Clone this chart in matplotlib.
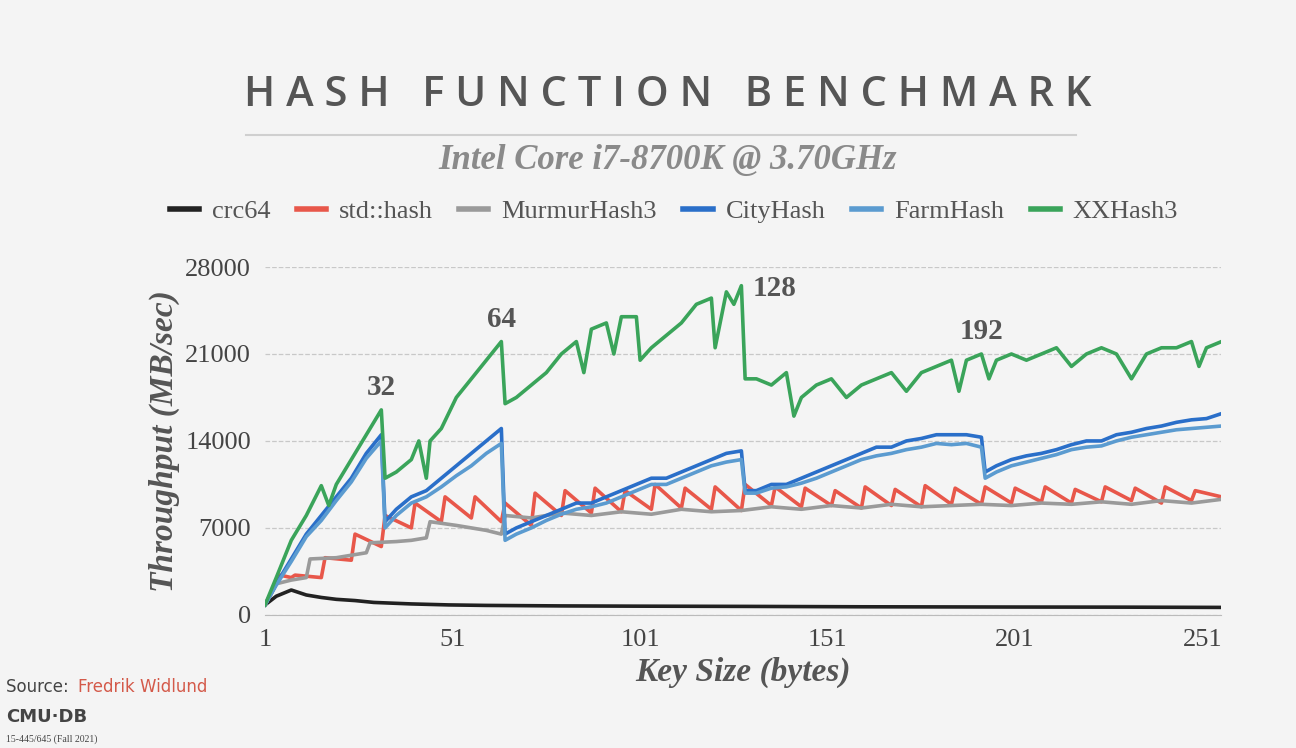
import matplotlib
matplotlib.use("Agg")
import matplotlib.pyplot as plt

# ---- data ----
crc_x = [1, 4, 8, 12, 16, 20, 25, 30, 40, 50, 60, 80, 100, 130, 160, 200, 230, 256]
crc_y = [800, 1500, 2000, 1600, 1400, 1250, 1150, 1000, 880, 800, 760, 720, 700, 680, 650, 630, 620, 600]

std_x = [1, 4, 5, 8, 9, 16, 17, 24, 25, 32, 33, 40, 41, 48, 49, 56, 57, 64, 65, 72, 73, 80, 81, 88, 89,
         96, 97, 104, 105, 112, 113, 120, 121, 128, 129, 136, 137, 144, 145, 152, 153, 160, 161, 168, 169,
         176, 177, 184, 185, 192, 193, 200, 201, 208, 209, 216, 217, 224, 225, 232, 233, 240, 241, 248, 249, 256]
std_y = [800, 2500, 3200, 3000, 3200, 3000, 4600, 4400, 6500, 5500, 8000, 7000, 9000, 7500, 9500, 7800,
         9500, 7500, 9000, 7200, 9800, 8000, 10000, 8200, 10200, 8300, 10000, 8500, 10500, 8600, 10200, 8500,
         10300, 8400, 10500, 8800, 10300, 8700, 10200, 8800, 10000, 8600, 10300, 8800, 10100, 8700, 10400,
         8900, 10200, 8900, 10300, 9000, 10200, 9100, 10300, 9000, 10100, 9100, 10300, 9200, 10200, 9000,
         10300, 9200, 10000, 9500]

mur_x = [1, 4, 8, 12, 13, 20, 24, 28, 29, 36, 40, 44, 45, 52, 56, 60, 64, 65, 72, 80, 88, 96, 104, 112,
         120, 128, 136, 144, 152, 160, 168, 176, 184, 192, 200, 208, 216, 224, 232, 240, 248, 256]
mur_y = [800, 2500, 2800, 3000, 4500, 4600, 4800, 5000, 5800, 5900, 6000, 6200, 7500, 7200, 7000, 6800,
         6500, 8000, 7800, 8200, 8000, 8300, 8100, 8500, 8300, 8400, 8700, 8500, 8800, 8600, 8900, 8700,
         8800, 8900, 8800, 9000, 8900, 9100, 8900, 9200, 9000, 9300]

city_x = [1, 4, 8, 12, 16, 20, 24, 28, 32, 33, 36, 40, 44, 48, 52, 56, 60, 64, 65, 68, 72, 76, 80, 84, 88,
          92, 96, 100, 104, 108, 112, 116, 120, 124, 128, 129, 132, 136, 140, 144, 148, 152, 156, 160, 164,
          168, 172, 176, 180, 184, 188, 192, 193, 196, 200, 204, 208, 212, 216, 220, 224, 228, 232, 236,
          240, 244, 248, 252, 256]
city_y = [800, 2500, 4500, 6500, 8000, 9500, 11000, 13000, 14500, 7500, 8500, 9500, 10000, 11000, 12000,
          13000, 14000, 15000, 6500, 7000, 7500, 8000, 8500, 9000, 9000, 9500, 10000, 10500, 11000, 11000,
          11500, 12000, 12500, 13000, 13200, 10000, 10000, 10500, 10500, 11000, 11500, 12000, 12500, 13000,
          13500, 13500, 14000, 14200, 14500, 14500, 14500, 14300, 11500, 12000, 12500, 12800, 13000, 13300,
          13700, 14000, 14000, 14500, 14700, 15000, 15200, 15500, 15700, 15800, 16200]

farm_x = city_x
farm_y = [800, 2400, 4300, 6300, 7600, 9200, 10700, 12600, 14000, 7000, 8000, 9000, 9500, 10300, 11200,
          12000, 13000, 13800, 6000, 6500, 7000, 7600, 8100, 8500, 8700, 9000, 9500, 10000, 10500, 10500,
          11000, 11500, 12000, 12300, 12500, 9800, 9800, 10200, 10300, 10600, 11000, 11500, 12000, 12500,
          12800, 13000, 13300, 13500, 13800, 13700, 13800, 13500, 11000, 11500, 12000, 12300, 12600, 12900,
          13300, 13500, 13600, 14000, 14300, 14500, 14700, 14900, 15000, 15100, 15200]

xx_x = [1, 4, 8, 12, 16, 18, 20, 24, 28, 32, 33, 36, 40, 42, 44, 45, 48, 52, 56, 60, 64, 65, 68, 72, 76,
        80, 84, 86, 88, 92, 94, 96, 100, 101, 104, 108, 112, 116, 120, 121, 124, 126, 128, 129, 132, 136,
        140, 142, 144, 148, 152, 156, 160, 164, 168, 172, 176, 180, 184, 186, 188, 192, 194, 196, 200,
        204, 208, 212, 216, 220, 224, 228, 232, 236, 240, 244, 248, 250, 252, 256]
xx_y = [800, 3000, 6000, 8000, 10400, 8800, 10500, 12500, 14500, 16500, 11000, 11500, 12500, 14000, 11000,
        14000, 15000, 17500, 19000, 20500, 22000, 17000, 17500, 18500, 19500, 21000, 22000, 19500, 23000,
        23500, 21000, 24000, 24000, 20500, 21500, 22500, 23500, 25000, 25500, 21500, 26000, 25000, 26500,
        19000, 19000, 18500, 19500, 16000, 17500, 18500, 19000, 17500, 18500, 19000, 19500, 18000, 19500,
        20000, 20500, 18000, 20500, 21000, 19000, 20500, 21000, 20500, 21000, 21500, 20000, 21000, 21500,
        21000, 19000, 21000, 21500, 21500, 22000, 20000, 21500, 22000]

series = [("crc64", crc_x, crc_y, "#222222"),
          ("std::hash", std_x, std_y, "#e8574a"),
          ("MurmurHash3", mur_x, mur_y, "#9a9a9a"),
          ("CityHash", city_x, city_y, "#2a6fc9"),
          ("FarmHash", farm_x, farm_y, "#5b9bd0"),
          ("XXHash3", xx_x, xx_y, "#3aa45a")]
peaks = [(32, 16500, "32"), (64, 22000, "64"), (128, 26500, "128"), (192, 21000, "192")]

SERIF = "Liberation Serif"
fig = plt.figure(figsize=(12.96, 7.48), dpi=100)
fig.patch.set_facecolor("#f4f4f4")
ax = fig.add_axes([0.2045, 0.178, 0.738, 0.465])
ax.set_facecolor("#f4f4f4")

for name, xs, ys, c in series:
    ax.plot(xs, ys, color=c, lw=2.6, label=name)
for x, y, t in peaks:
    if x == 128:
        ax.text(x + 3, y - 200, t, ha="left", va="center", fontsize=21, weight="bold",
                family=SERIF, color="#555")
    else:
        ax.text(x, y + 700, t, ha="center", va="bottom", fontsize=21, weight="bold",
                family=SERIF, color="#555")

ax.set_xlim(1, 256)
ax.set_ylim(0, 28000)
ax.set_xticks([1, 51, 101, 151, 201, 251])
ax.set_yticks([0, 7000, 14000, 21000, 28000])
ax.tick_params(labelsize=19, colors="#444", length=0, pad=10)
for lab in ax.get_xticklabels() + ax.get_yticklabels():
    lab.set_family(SERIF)
ax.grid(axis="y", ls="--", color="#c8c8c8", lw=0.9)
for s in ("top", "right", "left"):
    ax.spines[s].set_visible(False)
ax.spines["bottom"].set_color("#bbbbbb")
ax.set_xlabel("Key Size (bytes)", fontsize=24, style="italic", weight="bold", family=SERIF, color="#555")
ax.set_ylabel("Throughput (MB/sec)", fontsize=24, style="italic", weight="bold", family=SERIF, color="#555")

fig.text(0.515, 0.873, "H A S H   F U N C T I O N   B E N C H M A R K", ha="center", va="center",
         fontsize=30, color="#555", family="Open Sans", weight="semibold")
fig.add_artist(plt.Line2D([0.19, 0.83], [0.82, 0.82], color="#cfcfcf", lw=1.5))
fig.text(0.515, 0.785, "Intel Core i7-8700K @ 3.70GHz", ha="center", va="center", fontsize=25,
         style="italic", weight="bold", family=SERIF, color="#8a8a8a")
leg = fig.legend(loc="center", bbox_to_anchor=(0.52, 0.717), ncol=6, frameon=False, handlelength=1.1,
                 handletextpad=0.5, columnspacing=1.0, prop={"family": SERIF, "size": 19},
                 labelcolor="#555")
for h in leg.get_lines():
    h.set_linewidth(4)

fig.text(0.005, 0.075, "Source: ", fontsize=12, color="#444")
fig.text(0.06, 0.075, "Fredrik Widlund", fontsize=12, color="#d45a4a")
fig.text(0.005, 0.035, "CMU·DB", fontsize=13, color="#444", weight="bold")
fig.text(0.005, 0.008, "15-445/645 (Fall 2021)", fontsize=7, color="#444", family=SERIF)

plt.savefig("out.png", facecolor=fig.get_facecolor())
